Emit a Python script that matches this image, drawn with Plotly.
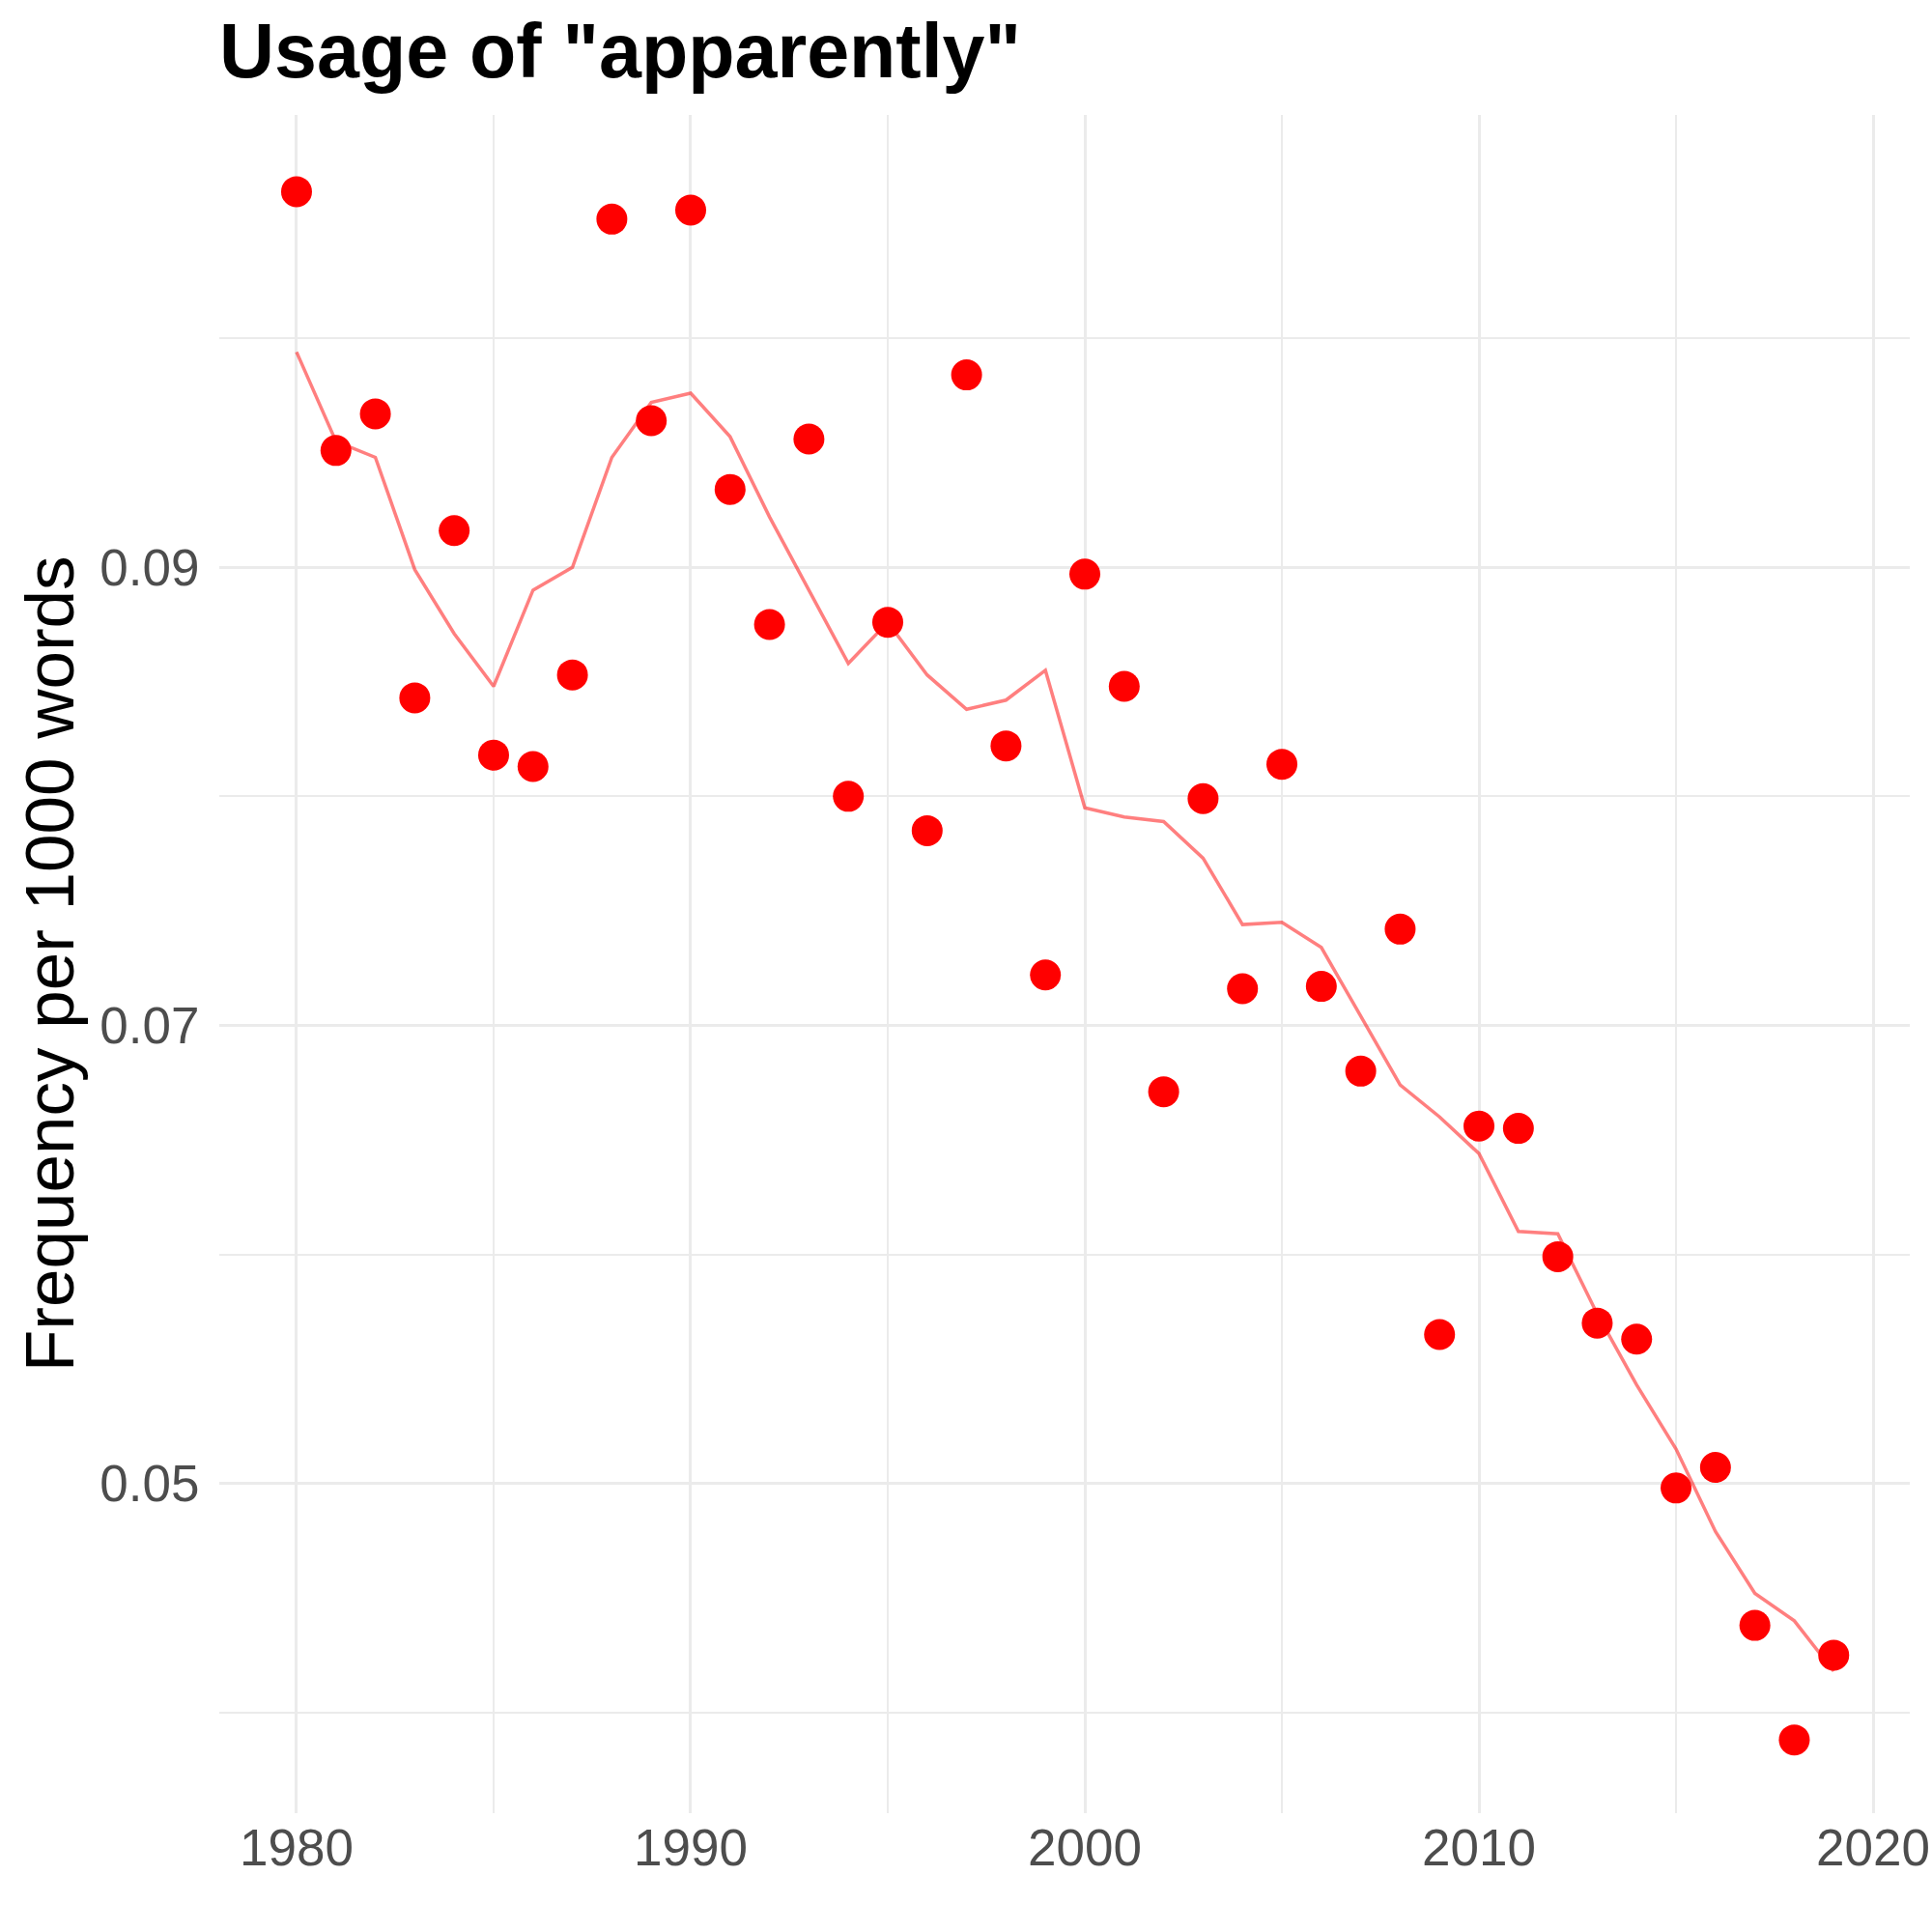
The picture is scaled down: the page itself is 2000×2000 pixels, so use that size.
import plotly.graph_objects as go

years = list(range(1980, 2020))

frequency = [
    0.1064, 0.0951, 0.0967, 0.0843, 0.0916, 0.0818, 0.0813, 0.0853, 0.1052, 0.0964,
    0.1056, 0.0934, 0.0875, 0.0956, 0.0800, 0.0876, 0.0785, 0.0984, 0.0822, 0.0722,
    0.0897, 0.0848, 0.0671, 0.0799, 0.0716, 0.0814, 0.0717, 0.0680, 0.0742, 0.0565,
    0.0656, 0.0655, 0.0599, 0.0570, 0.0563, 0.0498, 0.0507, 0.0438, 0.0388, 0.0425,
]

smoothed = [
    0.0994, 0.0955, 0.0948, 0.0899, 0.0871, 0.0848, 0.0890, 0.0900, 0.0948, 0.0972,
    0.0976, 0.0957, 0.0922, 0.0890, 0.0858, 0.0876, 0.0853, 0.0838, 0.0842, 0.0855,
    0.0795, 0.0791, 0.0789, 0.0773, 0.0744, 0.0745, 0.0734, 0.0704, 0.0674, 0.0660,
    0.0644, 0.0610, 0.0609, 0.0574, 0.0543, 0.0515, 0.0479, 0.0452, 0.0440, 0.0418,
]

x_ticks = [1980, 1990, 2000, 2010, 2020]
y_ticks = [0.05, 0.07, 0.09]
y_tick_labels = ["0.05", "0.07", "0.09"]

title_text = 'Usage of "apparently"'
y_title = "Frequency per 1000 words"

FONT = "Liberation Sans, Arial, Helvetica, sans-serif"

fig = go.Figure()
fig.add_trace(go.Scatter(
    x=years, y=frequency, mode="markers",
    marker=dict(color="#FF0000", size=32, line=dict(width=0)),
    showlegend=False, cliponaxis=False,
))
fig.add_trace(go.Scatter(
    x=years, y=smoothed, mode="lines",
    line=dict(color="rgba(255,0,0,0.5)", width=3.5),
    showlegend=False,
))

W, H = 2000, 2000
L, R, T, B = 227, 23, 119, 123

fig.update_layout(
    width=W, height=H,
    margin=dict(l=L, r=R, t=T, b=B, pad=0, autoexpand=False),
    paper_bgcolor="white", plot_bgcolor="white",
    font=dict(family=FONT, color="#4D4D4D"),
    showlegend=False,
    title=dict(
        text="<b>" + title_text + "</b>",
        font=dict(family=FONT, size=79, color="black"),
        xref="paper", x=0.0, xanchor="left",
        yref="container", y=1 - 52 / H, yanchor="middle",
    ),
    xaxis=dict(
        range=[1978.04, 2020.93],
        automargin=False,
        tickvals=x_ticks,
        ticktext=[str(v) for v in x_ticks],
        tickfont=dict(family=FONT, size=53, color="#4D4D4D"),
        ticks="",
        showgrid=True, gridcolor="#EBEBEB", gridwidth=3,
        minor=dict(tickvals=[1985, 1995, 2005, 2015], showgrid=True,
                   gridcolor="#EBEBEB", gridwidth=1.5, ticks=""),
        zeroline=False, showline=False,
    ),
    yaxis=dict(
        range=[0.0356, 0.10975],
        automargin=False,
        tickvals=y_ticks,
        ticktext=y_tick_labels,
        tickfont=dict(family=FONT, size=53, color="#4D4D4D"),
        ticks="outside", ticklen=9, tickcolor="rgba(0,0,0,0)",
        showgrid=True, gridcolor="#EBEBEB", gridwidth=3,
        minor=dict(tickvals=[0.04, 0.06, 0.08, 0.10], showgrid=True,
                   gridcolor="#EBEBEB", gridwidth=1.5, ticks=""),
        zeroline=False, showline=False,
    ),
    annotations=[dict(
        text=y_title, textangle=-90,
        xref="paper", yref="paper",
        x=(51 - L) / (W - L - R), y=0.5,
        xanchor="center", yanchor="middle",
        showarrow=False,
        font=dict(family=FONT, size=71, color="black"),
    )],
)

fig.write_html(
    "out.html",
    config={"displayModeBar": False},
    post_script="document.body.style.margin='0';document.body.style.overflow='hidden';",
)
